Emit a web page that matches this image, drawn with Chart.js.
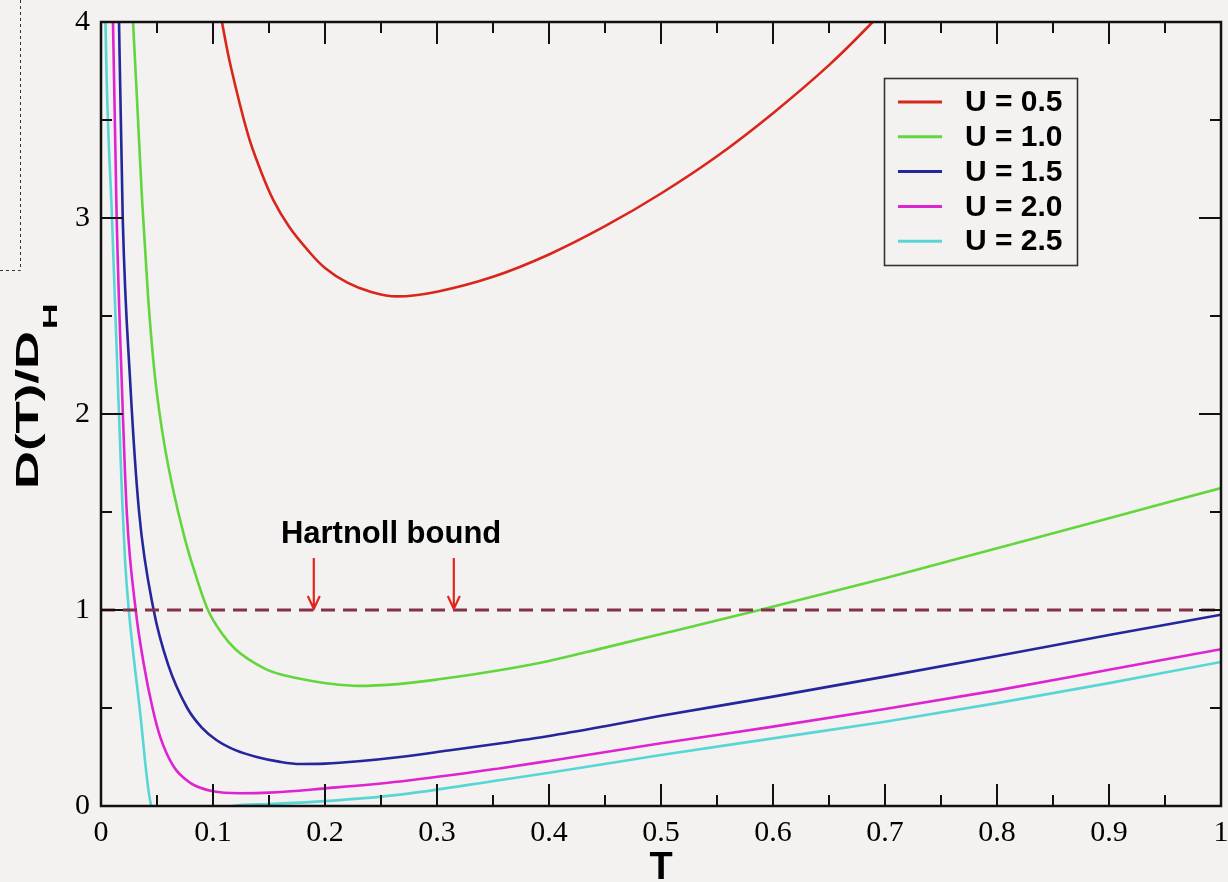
<!DOCTYPE html>
<html><head><meta charset="utf-8">
<script src="https://cdn.jsdelivr.net/npm/chart.js@4.4.1/dist/chart.umd.min.js"></script>
<style>
html,body{margin:0;padding:0;background:#f3f2f0;overflow:hidden;}
canvas{display:block;}
</style></head><body>
<canvas id="c" width="1228" height="882"></canvas>
<script>
// ---------------- data ----------------
const xTicks = [0, 0.1, 0.2, 0.3, 0.4, 0.5, 0.6, 0.7, 0.8, 0.9, 1];
const xTickLabels = ["0", "0.1", "0.2", "0.3", "0.4", "0.5", "0.6", "0.7", "0.8", "0.9", "1"];
const xMinorTicks = [0.05, 0.15, 0.25, 0.35, 0.45, 0.55, 0.65, 0.75, 0.85, 0.95];
const yTicks = [0, 1, 2, 3, 4];
const yTickLabels = ["0", "1", "2", "3", "4"];
const yMinorTicks = [0.5, 1.5, 2.5, 3.5];

const seriesLabels = ["U = 0.5", "U = 1.0", "U = 1.5", "U = 2.0", "U = 2.5"];

const tU05 = [0.100, 0.108, 0.116, 0.131, 0.142, 0.154, 0.168, 0.184, 0.200, 0.220, 0.240, 0.264, 0.300, 0.350, 0.400, 0.450, 0.500, 0.550, 0.600, 0.650, 0.689, 0.720];
const dU05 = [4.25, 4.00, 3.77, 3.43, 3.25, 3.09, 2.955, 2.84, 2.745, 2.67, 2.625, 2.60, 2.624, 2.70, 2.814, 2.958, 3.125, 3.315, 3.535, 3.78, 4.00, 4.19];

const tU10 = [0.024, 0.0286, 0.0322, 0.0366, 0.042, 0.048, 0.055, 0.0634, 0.075, 0.085, 0.0955, 0.108, 0.12, 0.1466, 0.16, 0.18, 0.205, 0.229, 0.265, 0.30, 0.357, 0.40, 0.45, 0.50, 0.588, 0.70, 0.80, 0.90, 1.0];
const dU10 = [4.55, 4.0, 3.60, 3.10, 2.60, 2.20, 1.90, 1.64, 1.36, 1.17, 1.0, 0.88, 0.80, 0.70, 0.672, 0.647, 0.624, 0.613, 0.622, 0.645, 0.694, 0.74, 0.808, 0.877, 1.0, 1.162, 1.315, 1.468, 1.622];

const tU15 = [0.012, 0.0161, 0.0194, 0.026, 0.034, 0.047, 0.060, 0.077, 0.090, 0.103, 0.12, 0.139, 0.16, 0.178, 0.20, 0.23, 0.267, 0.31, 0.357, 0.40, 0.45, 0.50, 0.60, 0.70, 0.80, 0.90, 1.0];
const dU15 = [5.5, 4.0, 3.0, 2.17, 1.5, 1.0, 0.72, 0.50, 0.40, 0.337, 0.285, 0.25, 0.225, 0.214, 0.216, 0.228, 0.25, 0.283, 0.32, 0.357, 0.407, 0.460, 0.558, 0.66, 0.765, 0.872, 0.976];

const tU20 = [0.007, 0.0107, 0.014, 0.0185, 0.023, 0.031, 0.038, 0.046, 0.053, 0.065, 0.08, 0.1, 0.124, 0.15, 0.2, 0.267, 0.357, 0.40, 0.50, 0.60, 0.70, 0.80, 0.90, 1.0];
const dU20 = [5.5, 4.0, 3.0, 2.17, 1.5, 1.0, 0.73, 0.50, 0.35, 0.20, 0.117, 0.075, 0.065, 0.068, 0.09, 0.125, 0.193, 0.23, 0.32, 0.405, 0.495, 0.59, 0.695, 0.80];

const tU25 = [0.002, 0.004, 0.0098, 0.0148, 0.019, 0.0215, 0.0245, 0.0345, 0.045, 0.055, 0.075, 0.095, 0.118, 0.15, 0.2, 0.267, 0.357, 0.40, 0.50, 0.60, 0.70, 0.80, 0.90, 1.0];
const dU25 = [5.0, 4.0, 3.0, 2.2, 1.55, 1.25, 1.02, 0.50, 0.0, -0.05, -0.07, -0.04, 0.0, 0.01, 0.025, 0.058, 0.133, 0.17, 0.26, 0.345, 0.43, 0.525, 0.627, 0.735];

const boundT = [0, 1];
const boundD = [1, 1];
const boundLabel = "Hartnoll bound";
const arrowT = [0.19, 0.315];

const xTitle = "T";
const yTitleMain = "D(T)/D";
const yTitleSub = "H";

// ---------------- styles ----------------
const BG = '#f3f2f0';
const colors = ['#d9261c', '#62d63c', '#25259c', '#de24d0', '#58d6d6'];

function pts(t, d) { return t.map((v, i) => ({ x: v, y: d[i] })); }
const series = [[tU05, dU05], [tU10, dU10], [tU15, dU15], [tU20, dU20], [tU25, dU25]];

const datasets = series.map((s, i) => {
  const ds = {
    label: seriesLabels[i],
    data: pts(s[0], s[1]),
    borderColor: colors[i],
    borderWidth: 2.6,
    pointRadius: 0,
    fill: false
  };
  if (i === 0) { ds.tension = 0.4; } else { ds.cubicInterpolationMode = 'monotone'; }
  return ds;
});
datasets.unshift({
  label: boundLabel,
  data: pts(boundT, boundD),
  borderColor: '#84304a',
  borderWidth: 3,
  borderDash: [14, 8],
  pointRadius: 0,
  fill: false,
  isBound: true
});

const deco = {
  id: 'deco',
  beforeDraw(chart) {
    const ctx = chart.ctx;
    ctx.save();
    ctx.fillStyle = BG;
    ctx.fillRect(0, 0, chart.width, chart.height);
    ctx.strokeStyle = '#333';
    ctx.lineWidth = 1;
    ctx.setLineDash([3, 3]);
    ctx.beginPath();
    ctx.moveTo(20.5, 0); ctx.lineTo(20.5, 270.5); ctx.lineTo(0, 270.5);
    ctx.stroke();
    ctx.restore();
  },
  afterDatasetsDraw(chart) {
    const ctx = chart.ctx, a = chart.chartArea;
    const xs = chart.scales.x, ys = chart.scales.y;
    ctx.save();
    // frame
    ctx.strokeStyle = '#111';
    ctx.lineWidth = 2.5;
    ctx.strokeRect(a.left, a.top, a.right - a.left, a.bottom - a.top);
    // ticks (inward, all four sides)
    ctx.lineWidth = 2;
    ctx.beginPath();
    const tk = (vals, len) => {
      vals.forEach(v => {
        const px = xs.getPixelForValue(v);
        ctx.moveTo(px, a.bottom); ctx.lineTo(px, a.bottom - len);
        ctx.moveTo(px, a.top); ctx.lineTo(px, a.top + len);
      });
    };
    const tky = (vals, len) => {
      vals.forEach(v => {
        const py = ys.getPixelForValue(v);
        ctx.moveTo(a.left, py); ctx.lineTo(a.left + len, py);
        ctx.moveTo(a.right, py); ctx.lineTo(a.right - len, py);
      });
    };
    tk(xTicks, 22); tk(xMinorTicks, 11);
    tky(yTicks, 22); tky(yMinorTicks, 11);
    ctx.stroke();

    // arrows
    ctx.strokeStyle = '#e2261e';
    ctx.lineWidth = 2.2;
    arrowT.forEach(t => {
      const px = xs.getPixelForValue(t);
      const y0 = ys.getPixelForValue(1.265), y1 = ys.getPixelForValue(1.0) - 1;
      ctx.beginPath();
      ctx.moveTo(px, y0); ctx.lineTo(px, y1);
      ctx.moveTo(px - 6, y1 - 13); ctx.lineTo(px, y1); ctx.lineTo(px + 6, y1 - 13);
      ctx.stroke();
    });
    // annotation text
    ctx.fillStyle = '#000';
    ctx.font = 'bold 31px "Liberation Sans", Arial, sans-serif';
    ctx.textAlign = 'center';
    ctx.textBaseline = 'middle';
    ctx.fillText(boundLabel, xs.getPixelForValue(0.259), ys.getPixelForValue(1.385));

    // legend
    const lx = 884, ly = 78, lw = 193, lh = 187;
    ctx.strokeStyle = '#333';
    ctx.lineWidth = 1.6;
    ctx.strokeRect(lx + 0.5, ly + 0.5, lw, lh);
    ctx.textAlign = 'left';
    ctx.font = 'bold 30px "Liberation Sans", Arial, sans-serif';
    const ds = chart.data.datasets.filter(d => !d.isBound);
    ds.forEach((d, i) => {
      const yy = ly + 24 + i * 34.8;
      ctx.strokeStyle = d.borderColor;
      ctx.lineWidth = 3;
      ctx.beginPath(); ctx.moveTo(898, yy); ctx.lineTo(942, yy); ctx.stroke();
      ctx.fillStyle = '#000';
      ctx.fillText(d.label, 965, yy + 1);
    });

    // axis titles
    ctx.fillStyle = '#000';
    ctx.textAlign = 'center';
    ctx.textBaseline = 'top';
    ctx.font = 'bold 38px "Liberation Sans", Arial, sans-serif';
    ctx.fillText(xTitle, (a.left + a.right) / 2, 850);

    ctx.save();
    ctx.translate(38, 489);
    ctx.rotate(-Math.PI / 2);
    ctx.scale(1.7, 1);
    ctx.textAlign = 'left';
    ctx.textBaseline = 'alphabetic';
    ctx.font = 'bold 31px "Liberation Sans", Arial, sans-serif';
    ctx.fillText(yTitleMain, 0, 0);
    const w = ctx.measureText(yTitleMain).width;
    ctx.font = 'bold 21px "Liberation Sans", Arial, sans-serif';
    ctx.fillText(yTitleSub, w + 1, 19);
    ctx.restore();

    ctx.restore();
  }
};

new Chart(document.getElementById('c'), {
  type: 'line',
  data: { datasets },
  options: {
    responsive: false,
    animation: false,
    devicePixelRatio: 1,
    events: [],
    layout: { padding: { top: 22, right: 7, left: 0, bottom: 0 } },
    plugins: { legend: { display: false }, tooltip: { enabled: false } },
    scales: {
      x: {
        type: 'linear', min: 0, max: 1,
        grid: { display: false, drawTicks: false },
        border: { display: false },
        afterBuildTicks: s => { s.ticks = xTicks.map(v => ({ value: v })); },
        afterFit: s => { s.height = 76; s.paddingLeft = 0; s.paddingRight = 0; },
        ticks: {
          autoSkip: false, maxRotation: 0, minRotation: 0, padding: 9,
          color: '#000',
          font: { family: '"Liberation Serif", "Times New Roman", serif', size: 30 },
          callback: (v) => { const i = xTicks.indexOf(v); return i >= 0 ? xTickLabels[i] : ''; }
        }
      },
      y: {
        type: 'linear', min: 0, max: 4,
        grid: { display: false, drawTicks: false },
        border: { display: false },
        afterBuildTicks: s => { s.ticks = yTicks.map(v => ({ value: v })); },
        afterFit: s => { s.width = 101; s.paddingTop = 0; s.paddingBottom = 0; },
        ticks: {
          autoSkip: false, padding: 11,
          color: '#000',
          font: { family: '"Liberation Serif", "Times New Roman", serif', size: 30 },
          callback: (v) => { const i = yTicks.indexOf(v); return i >= 0 ? yTickLabels[i] : ''; }
        }
      }
    }
  },
  plugins: [deco]
});
</script>
</body></html>
